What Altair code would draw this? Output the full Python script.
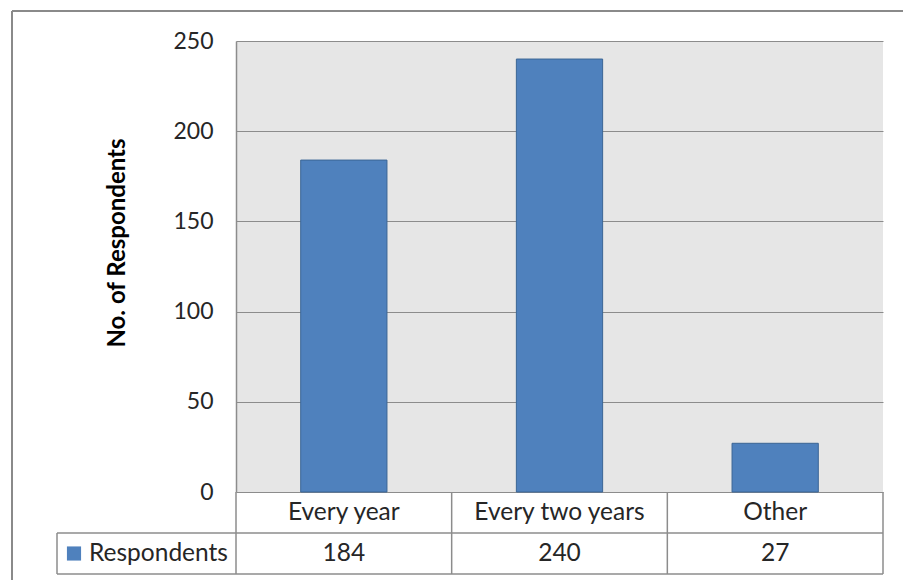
import altair as alt
import pandas as pd

# Survey answers: how often respondents do it
categories = ["Every year", "Every two years", "Other"]
respondents = [184, 240, 27]
series_name = "Respondents"
y_ticks = [0, 50, 100, 150, 200, 250]

df = pd.DataFrame({"category": categories, "value": respondents})

W, H = 647, 451          # plot area
ROW1, ROW2 = 492, 533    # bottom edges of the data-table rows (plot coords)
LEFT_CELL = -179         # left edge of the series-name cell
FONT = "Lato"
GRID = "#8c8c8c"
TEXT = "#262626"
BAR = "#4F81BD"
TABLE_FS = 24.5

x_band = alt.Scale(paddingInner=0, paddingOuter=0)

base = alt.Chart(df)

bars = base.mark_bar(width={"band": 0.4}, color=BAR, stroke="#3B6595",
                     strokeWidth=1).encode(
    x=alt.X("category:N", sort=categories, scale=x_band, axis=None),
    y=alt.Y("value:Q", scale=alt.Scale(domain=[0, 250], nice=False),
            axis=alt.Axis(values=y_ticks, title=None, grid=True, gridColor=GRID,
                          gridWidth=1, ticks=False, domain=True, domainColor=GRID,
                          domainWidth=1.5, labelFont=FONT, labelFontSize=23,
                          labelColor=TEXT, labelPadding=23)),
)

# data table beneath the plot
cat_text = base.mark_text(font=FONT, fontSize=TABLE_FS, color=TEXT, baseline="middle").encode(
    x=alt.X("category:N", sort=categories, bandPosition=0.5, scale=x_band, axis=None),
    y=alt.value((H + ROW1) / 2),
    text="category:N",
)
val_text = base.mark_text(font=FONT, fontSize=TABLE_FS, color=TEXT, baseline="middle").encode(
    x=alt.X("category:N", sort=categories, bandPosition=0.5, scale=x_band, axis=None),
    y=alt.value((ROW1 + ROW2) / 2),
    text="value:Q",
)
col_lines = base.mark_rule(color=GRID, strokeWidth=1.5).encode(
    x=alt.X("category:N", sort=categories, bandPosition=0, scale=x_band, axis=None),
    y=alt.value(H), y2=alt.value(ROW2),
)

frame = alt.Chart(pd.DataFrame({"k": [0]}))
right_line = frame.mark_rule(color=GRID, strokeWidth=1.5).encode(
    x=alt.value(W), y=alt.value(H), y2=alt.value(ROW2))
h_row1 = frame.mark_rule(color=GRID, strokeWidth=1.5).encode(
    x=alt.value(LEFT_CELL), x2=alt.value(W), y=alt.value(ROW1))
h_row2 = frame.mark_rule(color=GRID, strokeWidth=1.5).encode(
    x=alt.value(LEFT_CELL), x2=alt.value(W), y=alt.value(ROW2))
left_cell = frame.mark_rule(color=GRID, strokeWidth=1.5).encode(
    x=alt.value(LEFT_CELL), y=alt.value(ROW1), y2=alt.value(ROW2))

legend_key = frame.mark_square(color=BAR, size=200, opacity=1).encode(
    x=alt.value(LEFT_CELL + 17), y=alt.value((ROW1 + ROW2) / 2))
legend_label = frame.mark_text(font=FONT, fontSize=TABLE_FS, color=TEXT, align="left",
                               baseline="middle").encode(
    x=alt.value(LEFT_CELL + 32), y=alt.value((ROW1 + ROW2) / 2),
    text=alt.value(series_name))

y_title = frame.mark_text(font=FONT, fontSize=24, fontWeight="bold", color="black",
                          angle=270, baseline="middle", align="center").encode(
    x=alt.value(-118), y=alt.value(202), text=alt.value("No. of Respondents"))

# outer chart-area border
outer_v = frame.mark_rule(color="#8a8a8a", strokeWidth=2).encode(
    x=alt.value(-224), y=alt.value(-30), y2=alt.value(560))
outer_h = frame.mark_rule(color="#8a8a8a", strokeWidth=2).encode(
    x=alt.value(-224), x2=alt.value(700), y=alt.value(-30))

chart = alt.layer(
    bars, cat_text, val_text, col_lines, right_line, h_row1, h_row2, left_cell,
    legend_key, legend_label, y_title, outer_v, outer_h,
).properties(
    width=W, height=H,
    autosize=alt.AutoSizeParams(type="none"),
    padding={"left": 236, "top": 41, "right": 20, "bottom": 88},
    background="white",
).configure_view(
    fill="#E6E6E6", stroke=None,
)

chart.save("out.html", embed_options={"renderer": "svg", "actions": False})
